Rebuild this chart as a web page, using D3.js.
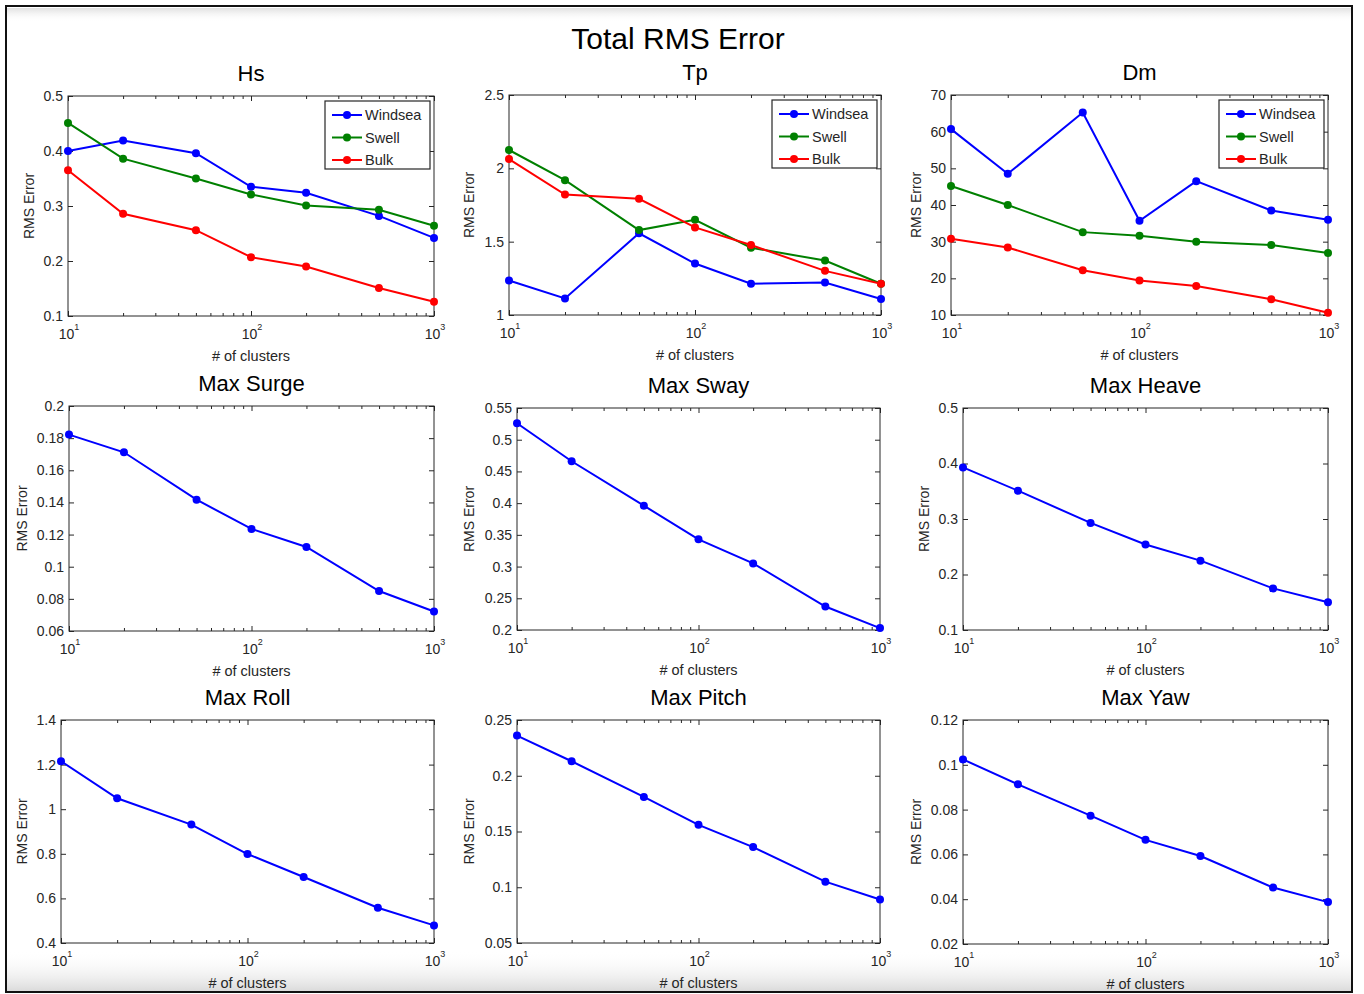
<!DOCTYPE html>
<html>
<head>
<meta charset="utf-8">
<script src="https://cdn.jsdelivr.net/npm/d3@7"></script>
<style>
  body { margin: 0; background: #fff; }
  text { font-family: "Liberation Sans", Arial, sans-serif; fill: #262626; }
</style>
</head>
<body>
<div id="chart"></div>
<script>
// number of clusters (x values, log axis)
var clusters = [10, 20, 50, 100, 200, 500, 1000];
var seriesNames = ["Windsea", "Swell", "Bulk"];

// sea state parameters
var hsWindsea = [0.400, 0.419, 0.396, 0.335, 0.324, 0.282, 0.242];
var hsSwell   = [0.451, 0.386, 0.350, 0.321, 0.301, 0.293, 0.264];
var hsBulk    = [0.365, 0.286, 0.256, 0.207, 0.190, 0.151, 0.126];

var tpWindsea = [1.235, 1.113, 1.557, 1.351, 1.213, 1.222, 1.109];
var tpSwell   = [2.125, 1.919, 1.579, 1.649, 1.459, 1.371, 1.213];
var tpBulk    = [2.063, 1.821, 1.792, 1.597, 1.477, 1.301, 1.213];

var dmWindsea = [60.7, 48.5, 65.2, 35.7, 46.5, 38.5, 36.0];
var dmSwell   = [45.2, 40.0, 32.6, 31.6, 30.0, 29.1, 26.9];
var dmBulk    = [30.8, 28.4, 22.2, 19.4, 17.9, 14.3, 10.6];

// vessel motions
var maxSurge = [0.1822, 0.1712, 0.1417, 0.1235, 0.1123, 0.0849, 0.0721];
var maxSway  = [0.526, 0.466, 0.396, 0.343, 0.305, 0.237, 0.203];
var maxHeave = [0.393, 0.351, 0.293, 0.254, 0.225, 0.175, 0.150];
var maxRoll  = [1.215, 1.049, 0.931, 0.799, 0.696, 0.558, 0.479];
var maxPitch = [0.236, 0.213, 0.181, 0.156, 0.136, 0.105, 0.089];
var maxYaw   = [0.1024, 0.0913, 0.0773, 0.0665, 0.0593, 0.0452, 0.0387];

var panelTitles = ["Hs", "Tp", "Dm", "Max Surge", "Max Sway", "Max Heave", "Max Roll", "Max Pitch", "Max Yaw"];

// y tick labels per panel
var hsTicks    = [0.1, 0.2, 0.3, 0.4, 0.5];
var tpTicks    = [1, 1.5, 2, 2.5];
var dmTicks    = [10, 20, 30, 40, 50, 60, 70];
var surgeTicks = [0.06, 0.08, 0.1, 0.12, 0.14, 0.16, 0.18, 0.2];
var swayTicks  = [0.2, 0.25, 0.3, 0.35, 0.4, 0.45, 0.5, 0.55];
var heaveTicks = [0.1, 0.2, 0.3, 0.4, 0.5];
var rollTicks  = [0.4, 0.6, 0.8, 1, 1.2, 1.4];
var pitchTicks = [0.05, 0.1, 0.15, 0.2, 0.25];
var yawTicks   = [0.02, 0.04, 0.06, 0.08, 0.1, 0.12];

var xMajor = [10, 100, 1000];
var xMinor = [20, 30, 40, 50, 60, 70, 80, 90, 200, 300, 400, 500, 600, 700, 800, 900];

var panels = [
    { ticks: hsTicks, series: [hsWindsea, hsSwell, hsBulk] },
    { ticks: tpTicks, series: [tpWindsea, tpSwell, tpBulk] },
    { ticks: dmTicks, series: [dmWindsea, dmSwell, dmBulk] },
    { ticks: surgeTicks, series: [maxSurge] },
    { ticks: swayTicks, series: [maxSway] },
    { ticks: heaveTicks, series: [maxHeave] },
    { ticks: rollTicks, series: [maxRoll] },
    { ticks: pitchTicks, series: [maxPitch] },
    { ticks: yawTicks, series: [maxYaw] }
];

// layout: axes boxes [left, top, right, bottom] and y label x position
var boxes = [
    [68, 96, 434, 316], [509, 95, 881, 315], [951, 95, 1328, 315],
    [69, 406, 434, 631], [517, 408, 880, 630], [963, 408, 1328, 630],
    [61, 720, 434, 943], [517, 720, 880, 943], [963, 720, 1328, 944]
];
var yLabelX = [29, 469, 916, 22, 469, 924, 22, 469, 916];
var colors = ["#0000ff", "#008000", "#ff0000"];

var W = 1364, H = 994;
var svg = d3.select("#chart").append("svg")
    .attr("width", W)
    .attr("height", H);

// faint screenshot shading at top and bottom
var defs = svg.append("defs");
var gb = defs.append("linearGradient").attr("id", "shadeBottom").attr("x1", 0).attr("y1", 0).attr("x2", 0).attr("y2", 1);
gb.append("stop").attr("offset", "0%").attr("stop-color", "#fff").attr("stop-opacity", 0);
gb.append("stop").attr("offset", "100%").attr("stop-color", "#d9d9d9").attr("stop-opacity", 1);
var gt = defs.append("linearGradient").attr("id", "shadeTop").attr("x1", 0).attr("y1", 0).attr("x2", 0).attr("y2", 1);
gt.append("stop").attr("offset", "0%").attr("stop-color", "#e0e0e0").attr("stop-opacity", 1);
gt.append("stop").attr("offset", "100%").attr("stop-color", "#fff").attr("stop-opacity", 0);

svg.append("rect").attr("x", 7).attr("y", 950).attr("width", 1344).attr("height", 42).attr("fill", "url(#shadeBottom)");
svg.append("rect").attr("x", 7).attr("y", 8).attr("width", 1344).attr("height", 14).attr("fill", "url(#shadeTop)");

// main title
svg.append("text")
    .attr("x", 678)
    .attr("y", 49)
    .attr("text-anchor", "middle")
    .style("font-size", "30px")
    .style("fill", "#000")
    .text("Total RMS Error");

function fmt(v) {
    return String(+v.toFixed(4));
}

panels.forEach(function (p, i) {
    var b = boxes[i];
    var w = b[2] - b[0], h = b[3] - b[1];
    var g = svg.append("g").attr("transform", "translate(" + b[0] + "," + b[1] + ")");

    var x = d3.scaleLog().domain([10, 1000]).range([0, w]);
    var y = d3.scaleLinear()
        .domain([p.ticks[0], p.ticks[p.ticks.length - 1]])
        .range([h, 0]);

    g.append("rect").attr("width", w).attr("height", h).attr("fill", "#fff");

    // ticks on all four sides, pointing inward
    function axisStyle(sel) {
        sel.select(".domain").remove();
        sel.selectAll("line").attr("stroke", "#262626");
    }
    g.append("g").attr("transform", "translate(0," + h + ")")
        .call(d3.axisBottom(x).tickValues(xMajor).tickSize(-5).tickFormat("")).call(axisStyle);
    g.append("g").attr("transform", "translate(0," + h + ")")
        .call(d3.axisBottom(x).tickValues(xMinor).tickSize(-3).tickFormat("")).call(axisStyle);
    g.append("g")
        .call(d3.axisTop(x).tickValues(xMajor).tickSize(-5).tickFormat("")).call(axisStyle);
    g.append("g")
        .call(d3.axisTop(x).tickValues(xMinor).tickSize(-3).tickFormat("")).call(axisStyle);
    g.append("g").attr("transform", "translate(" + w + ",0)")
        .call(d3.axisRight(y).tickValues(p.ticks).tickSize(-5).tickFormat("")).call(axisStyle);
    g.append("g")
        .call(d3.axisLeft(y).tickValues(p.ticks).tickSize(-5).tickPadding(5).tickFormat(fmt))
        .call(axisStyle)
        .selectAll("text")
        .style("font-size", "14px")
        .style("font-family", "'Liberation Sans', Arial, sans-serif")
        .attr("fill", "#262626");

    // x tick labels 10^n
    xMajor.forEach(function (v) {
        var t = g.append("text")
            .attr("x", x(v) + 1)
            .attr("y", h + 23)
            .attr("text-anchor", "middle")
            .style("font-size", "14px");
        t.append("tspan").text("10");
        t.append("tspan").attr("dy", -9).style("font-size", "9px").text(Math.log10(v));
    });

    g.append("rect").attr("width", w).attr("height", h)
        .attr("fill", "none").attr("stroke", "#262626").attr("stroke-width", 1);

    // lines and markers
    var line = d3.line()
        .x(function (d, j) { return x(clusters[j]); })
        .y(function (d) { return y(d); });

    p.series.forEach(function (s, k) {
        g.append("path")
            .datum(s)
            .attr("fill", "none")
            .attr("stroke", colors[k])
            .attr("stroke-width", 2)
            .attr("d", line);
        g.selectAll(".dot" + k)
            .data(s)
            .enter().append("circle")
            .attr("cx", function (d, j) { return x(clusters[j]); })
            .attr("cy", function (d) { return y(d); })
            .attr("r", 4)
            .attr("fill", colors[k]);
    });

    // legend for sea state panels
    if (p.series.length > 1) {
        var lg = g.append("g").attr("transform", "translate(" + (w - 109) + ",5)");
        lg.append("rect").attr("width", 105).attr("height", 68)
            .attr("fill", "#fff").attr("stroke", "#262626").attr("stroke-width", 1.2);
        seriesNames.forEach(function (n, k) {
            var yy = 14 + k * 22.5;
            lg.append("line").attr("x1", 7).attr("x2", 37).attr("y1", yy).attr("y2", yy)
                .attr("stroke", colors[k]).attr("stroke-width", 2);
            lg.append("circle").attr("cx", 22).attr("cy", yy).attr("r", 4).attr("fill", colors[k]);
            lg.append("text").attr("x", 40).attr("y", yy + 5)
                .style("font-size", "14.5px").text(n);
        });
    }

    // titles and axis labels
    g.append("text")
        .attr("x", w / 2)
        .attr("y", -15)
        .attr("text-anchor", "middle")
        .style("font-size", "22px")
        .style("fill", "#000")
        .text(panelTitles[i]);

    g.append("text")
        .attr("x", w / 2)
        .attr("y", h + 45)
        .attr("text-anchor", "middle")
        .style("font-size", "14.5px")
        .text("# of clusters");

    svg.append("text")
        .attr("transform", "translate(" + (yLabelX[i] + 5) + "," + (b[1] + h / 2) + ") rotate(-90)")
        .attr("text-anchor", "middle")
        .style("font-size", "14px")
        .text("RMS Error");
});

// outer frame
svg.append("rect")
    .attr("x", 6).attr("y", 6)
    .attr("width", 1346).attr("height", 986)
    .attr("fill", "none")
    .attr("stroke", "#111")
    .attr("stroke-width", 2);
</script>
</body>
</html>
